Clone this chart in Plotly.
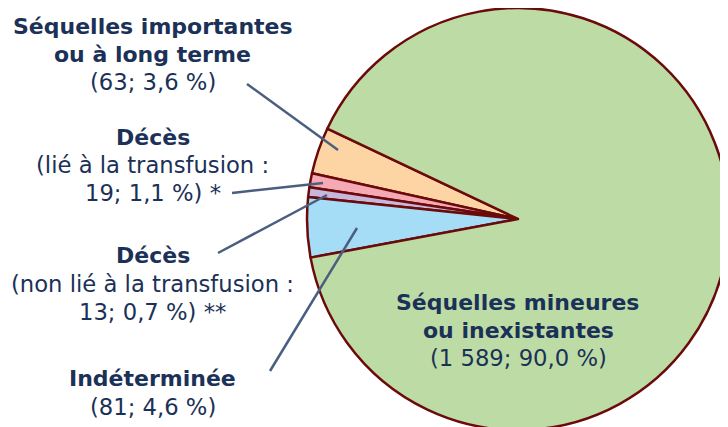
import plotly.graph_objects as go

W, H = 728, 427
OFF = 8  # page body margin offset of the plot div

categories = ["Séquelles importantes ou à long terme",
              "Décès (lié à la transfusion)",
              "Décès (non lié à la transfusion)",
              "Indéterminée",
              "Séquelles mineures ou inexistantes"]
counts = [63, 19, 13, 81, 1589]
percents = ["3,6", "1,1", "0,7", "4,6", "90,0"]
count_labels = ["63", "19", "13", "81", "1 589"]
colors = ["#fdd4a3", "#f5a9b5", "#c8b7dd", "#a6ddf6", "#bddca5"]

NAVY = "#1b3157"
LINE = "#4a5f80"
FONT = "DejaVu Sans"

# pie centre / radius in screen pixels
CX, CY, R = 518 - OFF, 219 - OFF, 211

fig = go.Figure(go.Pie(
    labels=categories,
    values=counts,
    sort=False,
    direction="counterclockwise",
    rotation=-77.5,
    textinfo="none",
    hoverinfo="label+value+percent",
    marker=dict(colors=colors, line=dict(color="#6b0a0a", width=2.5)),
    domain=dict(x=[max(0, (CX - R) / W), min(1, (CX + R) / W)],
                y=[max(0, 1 - (CY + R) / H), min(1, 1 - (CY - R) / H)]),
    showlegend=False,
))

def px(x, y):
    return (x - OFF) / W, 1 - (y - OFF) / H

# label lines: (x centre, y centre, text, bold)
lines = [
    (152.5, 26, "Séquelles importantes", True),
    (152.5, 54, "ou à long terme", True),
    (152.5, 82, f"({count_labels[0]}; {percents[0]} %)", False),
    (152.5, 137, "Décès", True),
    (152.5, 165, "(lié à la transfusion :", False),
    (152.5, 193, f"{count_labels[1]}; {percents[1]} %) *", False),
    (152.5, 255, "Décès", True),
    (152.5, 284, "(non lié à la transfusion :", False),
    (152.5, 312, f"{count_labels[2]}; {percents[2]} %) **", False),
    (152.5, 378, "Indéterminée", True),
    (152.5, 407, f"({count_labels[3]}; {percents[3]} %)", False),
    (518, 302, "Séquelles mineures", True),
    (519, 330, "ou inexistantes", True),
    (519, 358, f"({count_labels[4]}; {percents[4]} %)", False),
]
annotations = []
for x, y, t, b in lines:
    ax, ay = px(x, y)
    annotations.append(dict(x=ax, y=ay, xref="paper", yref="paper",
                            text=f"<b>{t}</b>" if b else t,
                            showarrow=False, xanchor="center", yanchor="middle",
                            align="center",
                            font=dict(family=FONT, size=22 if b else 22.7, color=NAVY)))

leaders = [((247, 84), (338, 150)),
           ((232, 193), (323, 183)),
           ((218, 253), (327, 195)),
           ((270, 371), (357, 228))]
shapes = []
for (x0, y0), (x1, y1) in leaders:
    a0, b0 = px(x0, y0)
    a1, b1 = px(x1, y1)
    shapes.append(dict(type="line", xref="paper", yref="paper", x0=a0, y0=b0, x1=a1, y1=b1,
                       line=dict(color=LINE, width=2.5)))

fig.update_layout(width=W, height=H, margin=dict(l=0, r=0, t=0, b=0),
                  paper_bgcolor="white", plot_bgcolor="white",
                  annotations=annotations, shapes=shapes)

fig.write_html("out.html")
